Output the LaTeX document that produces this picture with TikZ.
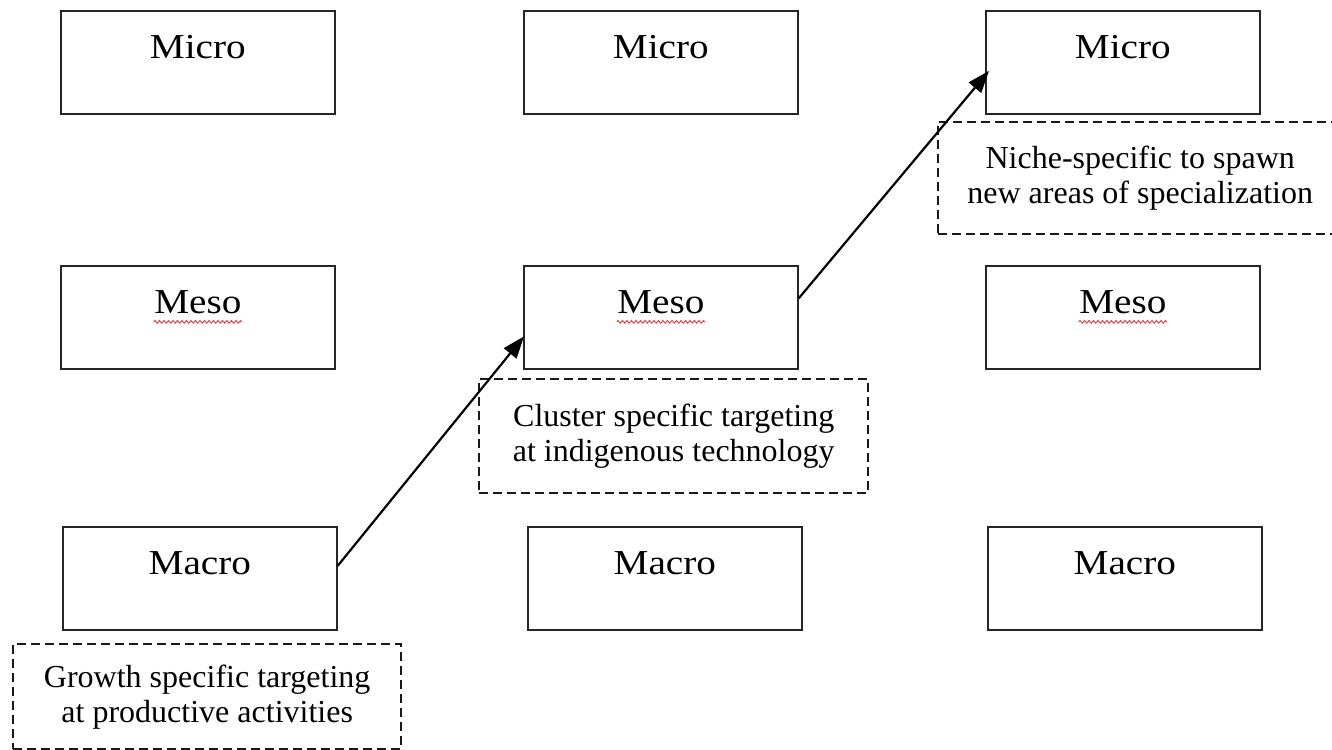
\documentclass[tikz,border=0pt]{standalone}
\usepackage{fontspec}
\setmainfont{Liberation Serif}
\newfontfamily\boxfont[FakeStretch=1.12]{Liberation Serif}
\usetikzlibrary{arrows.meta,decorations.pathmorphing}
\begin{document}
\begin{tikzpicture}[x=1pt,y=-1pt,
  levelbox/.style={draw=black!85,line width=1.7pt,anchor=north west,inner sep=0pt,
    text width=274pt,align=center,text height=48pt,text depth=55pt,
    font=\boxfont\fontsize{35pt}{40pt}\selectfont},
  notebox/.style={draw=black!90,line width=2.4pt,dash pattern=on 9pt off 5pt,anchor=north west,
    inner sep=0pt,align=center,font=\fontsize{32pt}{35pt}\selectfont},
  link/.style={line width=2.2pt,-{Triangle[length=22pt,width=16pt]}},
  squig/.style={red!80,line width=0.9pt,decorate,decoration={zigzag,segment length=4.5pt,amplitude=1.3pt}}]
\clip (0,0) rectangle (1332,749);
\fill[white] (0,0) rectangle (1332,749);
% Micro row
\node[levelbox] (mi1) at (60,10) {Micro};
\node[levelbox] (mi2) at (523,10) {Micro};
\node[levelbox] (mi3) at (985,10) {Micro};
% Meso row
\node[levelbox] (me1) at (60,265) {Meso};
\node[levelbox] (me2) at (523,265) {Meso};
\node[levelbox] (me3) at (985,265) {Meso};
% Macro row
\node[levelbox] (ma1) at (62,526) {Macro};
\node[levelbox] (ma2) at (527,526) {Macro};
\node[levelbox] (ma3) at (987,526) {Macro};
% spell-check squiggles
\foreach \n in {me1,me2,me3}{
  \draw[squig] ([xshift=-44pt,yshift=-8pt]\n.base) -- ([xshift=44pt,yshift=-8pt]\n.base);
}
% dashed notes
\node[notebox,minimum width=388pt,minimum height=105pt] (n1) at (12,643)
  {Growth specific targeting\\at productive activities};
\node[notebox,minimum width=389pt,minimum height=114pt] (n2) at (478,378)
  {Cluster specific targeting\\at indigenous technology};
\node[notebox,minimum width=404pt,minimum height=112pt] (n3) at (937,121)
  {Niche-specific to spawn\\new areas of specialization};
% arrows
\draw[link] ([yshift=12.5pt]ma1.east) -- ([xshift=1pt,yshift=-19pt]me2.west);
\draw[link] ([yshift=19pt]me2.east) -- ([xshift=4pt,yshift=-8.5pt]mi3.west);
\end{tikzpicture}
\end{document}
